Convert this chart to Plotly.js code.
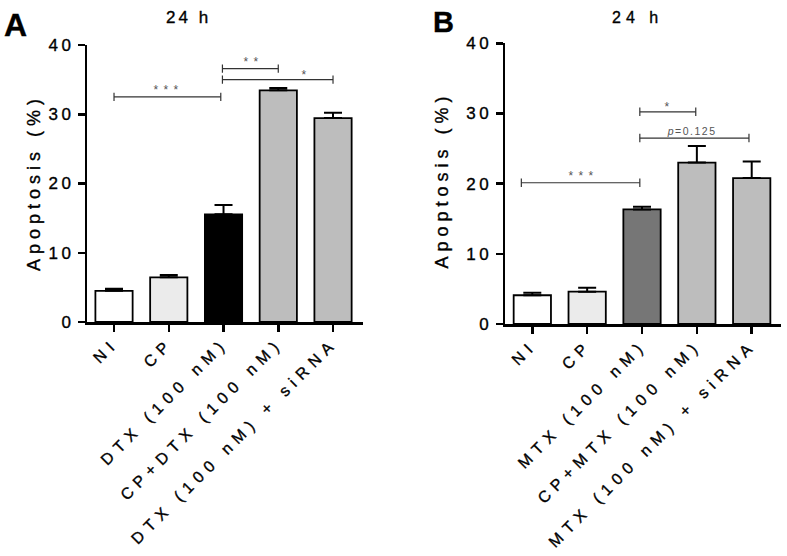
<!DOCTYPE html>
<html>
<head>
<meta charset="utf-8">
<script src="https://cdn.plot.ly/plotly-3.0.1.min.js"></script>
<style>
  html, body { margin: 0; padding: 0; background: #fff; }
  #chart { width: 787px; height: 556px; }
  .xtick text, .x2tick text { letter-spacing: 6px; stroke: #000; stroke-width: 0.35px; }
  .ytick text, .y2tick text { letter-spacing: 3.5px; stroke: #000; stroke-width: 0.35px; }
</style>
</head>
<body>
<div id="chart"></div>
<script>
// ---- data ----
const categoriesA = ['NI', 'CP', 'DTX (100 nM)', 'CP+DTX (100 nM)', 'DTX (100 nM) + siRNA'];
const valuesA = [4.5, 6.45, 15.55, 33.45, 29.45];
const errorsA = [0.3, 0.35, 1.35, 0.35, 0.75];

const categoriesB = ['NI', 'CP', 'MTX (100 nM)', 'CP+MTX (100 nM)', 'MTX (100 nM) + siRNA'];
const valuesB = [4.1, 4.6, 16.33, 23.0, 20.8];
const errorsB = [0.36, 0.57, 0.37, 2.36, 2.37];

const yTicks = [0, 10, 20, 30, 40];

// significance brackets: [from index, to index, level, label, label position]
const bracketsA = [[0, 1.95, 32.5, '* * *', 0.95], [1.98, 3, 36.6, '* *', 2.52], [1.98, 4, 35.0, '*', 3.47]];
const bracketsB = [[-0.2, 1.96, 20.13, '* * *', 0.89], [1.96, 2.98, 30.24, '*', 2.46], [1.96, 3.95, 26.5, '<i>p</i>=0.125', 2.9]];

// ---- styles ----
const FONT = 'Liberation Sans, Arial, Helvetica, sans-serif';
const colorsA = ['#ffffff', '#ebebeb', '#000000', '#bdbdbd', '#bdbdbd'];
const colorsB = ['#ffffff', '#ebebeb', '#767676', '#bdbdbd', '#bdbdbd'];

function barTrace(cats, vals, errs, colors, xa, ya) {
  return {
    type: 'bar',
    x: cats.map((c, i) => i),
    y: vals,
    width: 0.68,
    xaxis: xa, yaxis: ya,
    marker: { color: colors, line: { color: '#000', width: 1.8 } },
    error_y: {
      type: 'data', symmetric: false, array: errs, arrayminus: errs.map(() => 0),
      color: '#000', thickness: 2, width: 9
    },
    hoverinfo: 'skip', showlegend: false
  };
}

const data = [
  barTrace(categoriesA, valuesA, errorsA, colorsA, 'x', 'y'),
  barTrace(categoriesB, valuesB, errorsB, colorsB, 'x2', 'y2')
];

function xAxis(domain, range, cats) {
  return {
    domain: domain, range: range, tickmode: 'array',
    tickvals: cats.map((c, i) => i), ticktext: cats,
    tickangle: -45, ticks: 'outside', ticklen: 7, tickwidth: 2.5, tickcolor: '#000',
    ticklabelstandoff: -4,
    showline: true, linecolor: '#000', linewidth: 2.5, showgrid: false, zeroline: false,
    tickfont: { family: FONT, size: 16, color: '#000' }, fixedrange: true
  };
}
function yAxis(domain, anchor) {
  return {
    domain: domain, range: [0, 40], anchor: anchor, tickmode: 'array',
    tickvals: yTicks, ticktext: yTicks.map(String),
    ticks: 'outside', ticklen: 7, tickwidth: 2.5, tickcolor: '#000',
    showline: true, linecolor: '#000', linewidth: 2.5, showgrid: false, zeroline: false,
    tickfont: { family: FONT, size: 17, color: '#000' }, fixedrange: true
  };
}

const W = 787, H = 556;
const px = v => v / W;
const py = v => 1 - v / H;

const shapes = [];
const annotations = [];
const spacing = [];

function addBrackets(list, xr, yr) {
  const tk = 0.6;
  list.forEach(b => {
    const [x0, x1, y, label, lx] = b;
    const line = { color: '#333', width: 1.2 };
    shapes.push({ type: 'line', xref: xr, yref: yr, x0: x0, x1: x1, y0: y, y1: y, line: line });
    shapes.push({ type: 'line', xref: xr, yref: yr, x0: x0, x1: x0, y0: y - tk, y1: y + tk, line: line });
    shapes.push({ type: 'line', xref: xr, yref: yr, x0: x1, x1: x1, y0: y - tk, y1: y + tk, line: line });
    const isP = label.indexOf('</i>') >= 0;
    annotations.push({
      xref: xr, yref: yr, x: lx, y: y, yanchor: 'bottom', yshift: isP ? -1 : (label === '*' ? -4 : -2),
      text: label, showarrow: false,
      font: { family: FONT, size: isP ? 10.5 : 12, color: '#555' }
    });
    spacing.push(isP ? 1.5 : 1);
  });
}
addBrackets(bracketsA, 'x', 'y');
addBrackets(bracketsB, 'x2', 'y2');

function addText(text, x, y, size, opts, sp) {
  annotations.push(Object.assign({
    xref: 'paper', yref: 'paper', x: px(x), y: py(y), xanchor: 'center', yanchor: 'middle',
    text: text, showarrow: false, font: { family: FONT, size: size, color: '#000' }
  }, opts || {}));
  spacing.push(sp);
}
addText('<b>A</b>', 2, 25, 32, { xanchor: 'left' }, 0);
addText('<b>B</b>', 431, 22.5, 29, { xanchor: 'left' }, 0);
addText('24 h', 188, 17.5, 17, {}, 3);
addText('24 h', 637, 17.5, 16, {}, 5);
addText('Apoptosis (%)', 33, 182.5, 18, { textangle: -90 }, 5);
addText('Apoptosis (%)', 442, 180, 18, { textangle: -90 }, 5);

// CSS letter spacing (and slight weight) for annotations by index
const css = spacing.map((s, i) => s ? `.annotation[data-index="${i}"] text { letter-spacing: ${s}px; }` : '').join('\n') +
  annotations.map((a, i) => a.xref === 'paper' ? `.annotation[data-index="${i}"] text { stroke: #000; stroke-width: 0.35px; }` : '').join('\n');
const st = document.createElement('style'); st.textContent = css; document.head.appendChild(st);

const layout = {
  width: W, height: H,
  margin: { l: 0, r: 0, t: 0, b: 0 },
  paper_bgcolor: '#fff', plot_bgcolor: 'rgba(0,0,0,0)',
  font: { family: FONT, color: '#000' },
  bargap: 0.3,
  xaxis: xAxis([87.3 / W, 362.7 / W], [-0.488, 4.542], categoriesA),
  yaxis: yAxis([(H - 322) / H, (H - 45) / H], 'x'),
  xaxis2: Object.assign(xAxis([505 / W, 781 / W], [-0.498, 4.534], categoriesB), { anchor: 'y2' }),
  yaxis2: yAxis([(H - 324) / H, (H - 43.3) / H], 'x2'),
  shapes: shapes,
  annotations: annotations,
  showlegend: false
};
layout.xaxis.anchor = 'y';

Plotly.newPlot('chart', data, layout, { displayModeBar: false, staticPlot: true });
</script>
</body>
</html>
